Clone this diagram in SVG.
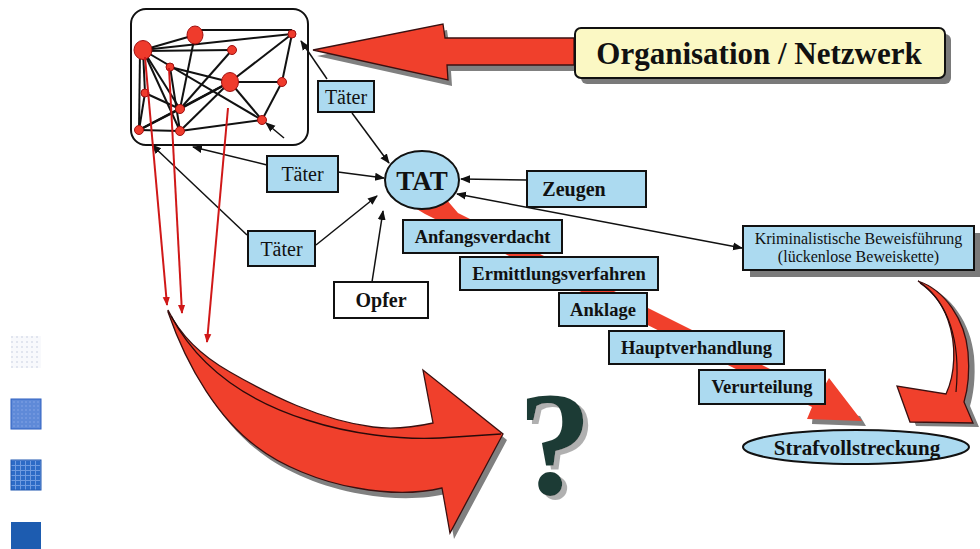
<svg xmlns="http://www.w3.org/2000/svg" width="980" height="549" viewBox="0 0 980 549">
<defs>
<style>
.bx{fill:#acdaf0;stroke:#111;stroke-width:2}
.wb{fill:#fff;stroke:#111;stroke-width:2}
.t{font-family:"Liberation Serif","Times New Roman",serif;fill:#111;text-anchor:middle}
.b{font-weight:bold}
.e{stroke:#111;stroke-width:2;fill:none}
.nd{fill:#ef3b2c;stroke:#a01010;stroke-width:1}
.c{stroke:#111;stroke-width:1.5;fill:none;marker-end:url(#ah)}
.r{stroke:#d01818;stroke-width:2;fill:none;marker-end:url(#ar)}
.red{fill:#f0402c;stroke:#3a1010;stroke-width:1.3}
.sh{fill:#808080}
</style>
<marker id="ah" viewBox="0 0 10 10" refX="9" refY="5" markerUnits="userSpaceOnUse" markerWidth="10" markerHeight="10" orient="auto-start-reverse"><path d="M0,1 L10,5 L0,9 z" fill="#111"/></marker>
<marker id="ar" viewBox="0 0 10 10" refX="9" refY="5" markerUnits="userSpaceOnUse" markerWidth="9" markerHeight="9" orient="auto"><path d="M0,1 L10,5 L0,9 z" fill="#d01818"/></marker>
<pattern id="p1" width="5" height="5" patternUnits="userSpaceOnUse"><rect width="5" height="5" fill="#f8f9fc"/><circle cx="2" cy="2" r="0.8" fill="#c4cde0"/></pattern>
<pattern id="p2" width="4" height="4" patternUnits="userSpaceOnUse"><rect width="4" height="4" fill="#5f8ad8"/><circle cx="2" cy="2" r="0.8" fill="#86a6e6"/></pattern>
<pattern id="p3" width="5" height="5" patternUnits="userSpaceOnUse"><rect width="5" height="5" fill="#2d6bc6"/><path d="M0,0.5 H5 M0.5,0 V5" stroke="#6f9be0" stroke-width="1"/></pattern>
<filter id="qs" x="-20%" y="-20%" width="150%" height="150%">
<feOffset in="SourceAlpha" dx="5" dy="4" result="o"/>
<feFlood flood-color="#b0b0b0"/>
<feComposite in2="o" operator="in" result="s"/>
<feMerge><feMergeNode in="s"/><feMergeNode in="SourceGraphic"/></feMerge>
</filter>
</defs>

<g id="legend-squares">
<rect x="11" y="336" width="30" height="32" fill="url(#p1)"/>
<rect x="11" y="399" width="30" height="30" fill="url(#p2)" stroke="#2c5fc0" stroke-width="1"/>
<rect x="11" y="460" width="30" height="30" fill="url(#p3)" stroke="#1f56b0" stroke-width="1"/>
<rect x="11" y="522" width="30" height="30" fill="#1d5cb0"/>
</g>

<g id="network">
<rect x="131" y="9" width="177" height="136" rx="15" fill="#fff" stroke="#111" stroke-width="2"/>
<g class="e">
<line x1="143" y1="50" x2="195" y2="35"/>
<line x1="195" y1="30" x2="292" y2="30"/>
<line x1="143" y1="50" x2="292" y2="34"/>
<line x1="143" y1="51" x2="232" y2="50"/>
<line x1="195" y1="35" x2="180" y2="109"/>
<line x1="232" y1="50" x2="180" y2="109"/>
<line x1="292" y1="34" x2="230" y2="82"/>
<line x1="292" y1="34" x2="282" y2="82"/>
<line x1="230" y1="82" x2="282" y2="82"/>
<line x1="230" y1="82" x2="262" y2="120"/>
<line x1="282" y1="82" x2="262" y2="120"/>
<line x1="180" y1="131" x2="262" y2="120"/>
<line x1="139" y1="130" x2="180" y2="131"/>
<line x1="139" y1="130" x2="180" y2="109"/>
<line x1="143" y1="50" x2="145" y2="93"/>
<line x1="145" y1="93" x2="139" y2="130"/>
<line x1="140" y1="52" x2="139" y2="130"/>
<line x1="143" y1="50" x2="180" y2="109"/>
<line x1="143" y1="50" x2="180" y2="131"/>
<line x1="143" y1="50" x2="262" y2="120"/>
<line x1="230" y1="82" x2="180" y2="109"/>
<line x1="230" y1="82" x2="139" y2="130"/>
<line x1="230" y1="82" x2="180" y2="131"/>
<line x1="170" y1="67" x2="180" y2="131"/>
<line x1="145" y1="93" x2="180" y2="109"/>
<line x1="170" y1="67" x2="230" y2="82"/>
</g>
<ellipse class="nd" cx="143" cy="50" rx="9" ry="9.5"/>
<ellipse class="nd" cx="195" cy="35" rx="8" ry="9"/>
<circle class="nd" cx="292" cy="34" r="4"/>
<circle class="nd" cx="232" cy="50" r="4.5"/>
<circle class="nd" cx="170" cy="67" r="4"/>
<ellipse class="nd" cx="230" cy="82" rx="8.5" ry="9.5"/>
<circle class="nd" cx="282" cy="82" r="4.5"/>
<circle class="nd" cx="145" cy="93" r="4"/>
<circle class="nd" cx="180" cy="109" r="4.5"/>
<circle class="nd" cx="262" cy="120" r="4.5"/>
<circle class="nd" cx="139" cy="130" r="4.5"/>
<circle class="nd" cx="180" cy="131" r="4.5"/>
</g>

<g id="big-arrows">
<polygon class="sh" points="317,56 447,30 449,44 578,44 578,71 451,71 452,86"/>
<polygon class="red" points="313,50 443,24 445,38 574,38 574,65 447,65 448,80"/>
<path class="sh" transform="translate(4,6)" d="M168,310 C180,335 200,355 230,372 C270,395 320,420 373,427 C395,430 415,427 433,423 L423,370 L503,434 L450,533 L442,488 C425,492 395,495 357,488 C320,482 280,465 257,447 C220,420 188,370 168,312 Z"/>
<path class="red" d="M168,310 C180,335 200,355 230,372 C270,395 320,420 373,427 C395,430 415,427 433,423 L423,370 L503,434 L450,533 L442,488 C425,492 395,495 357,488 C320,482 280,465 257,447 C220,420 188,370 168,312 Z"/>
<path d="M171,316 C200,370 250,402 307,420 C350,434 400,440 440,438 L501,434" fill="none" stroke="#2a0a0a" stroke-width="1.4"/>
<path class="sh" transform="translate(6,4)" d="M918,281 C945,290 965,320 968,352 C970,375 967,392 964,402 L973,423 L910,422 L897,386 L946,394 C955,375 957,345 948,320 C942,303 932,290 918,281 Z"/>
<path class="red" d="M918,281 C945,290 965,320 968,352 C970,375 967,392 964,402 L973,423 L910,422 L897,386 L946,394 C955,375 957,345 948,320 C942,303 932,290 918,281 Z"/>
<path d="M920,283 C948,302 961,340 956,392" fill="none" stroke="#2a0a0a" stroke-width="1.2"/>
<polygon class="sh" points="813,410 860,416 866,426 812,424"/>
<polygon fill="#f0402c" points="405,192 440,192 458,213 820,394 829,378 862,421 807,419 812,407 425,214 405,202"/>
</g>

<g id="connectors">
<line class="c" x1="327" y1="79" x2="301" y2="41"/>
<line class="c" x1="284" y1="138" x2="266" y2="123"/>
<line class="c" x1="352" y1="113" x2="389" y2="163"/>
<line class="c" x1="267" y1="165" x2="193" y2="147"/>
<line class="c" x1="338" y1="172" x2="384" y2="178"/>
<line class="c" x1="247" y1="235" x2="152" y2="145"/>
<line class="c" x1="316" y1="245" x2="377" y2="196"/>
<line class="c" x1="372" y1="282" x2="383" y2="211"/>
<line class="c" x1="527" y1="180" x2="461" y2="179"/>
<line x1="742" y1="248" x2="457" y2="194" stroke="#111" stroke-width="1.5" marker-start="url(#ah)" marker-end="url(#ah)"/>
<line class="r" x1="145" y1="57" x2="167" y2="305"/>
<line class="r" x1="169" y1="68" x2="182" y2="313"/>
<line class="r" x1="228" y1="108" x2="207" y2="342"/>
</g>

<g id="organisation">
<rect x="581" y="34" width="370" height="50" rx="6" fill="#7a7a7a"/>
<rect x="575" y="28" width="370" height="50" rx="6" fill="#fbf8c4" stroke="#111" stroke-width="2"/>
<text class="t b" x="759" y="64" font-size="31">Organisation / Netzwerk</text>
</g>

<g id="tat">
<ellipse cx="422" cy="180" rx="37" ry="29" fill="#acdaf0" stroke="#111" stroke-width="2"/>
<text class="t b" x="422" y="190" font-size="27">TAT</text>
</g>

<g id="taeter1"><rect class="bx" x="318" y="81" width="56" height="31"/><text class="t" x="346" y="103.5" font-size="20">Täter</text></g>
<g id="taeter2"><rect class="bx" x="267" y="156" width="71" height="36"/><text class="t" x="302.5" y="181" font-size="20">Täter</text></g>
<g id="taeter3"><rect class="bx" x="248" y="231" width="67" height="35"/><text class="t" x="281.5" y="255.5" font-size="20">Täter</text></g>
<g id="opfer"><rect class="wb" x="334" y="282" width="94" height="36"/><text class="t b" x="381" y="307" font-size="20">Opfer</text></g>
<g id="zeugen"><rect class="bx" x="527" y="171" width="119" height="36"/><text class="t b" x="574" y="196" font-size="20">Zeugen</text></g>

<g id="anfangsverdacht"><rect class="bx" x="403" y="220" width="159" height="33"/><text class="t b" x="482.5" y="243" font-size="18.5">Anfangsverdacht</text></g>
<g id="ermittlungsverfahren"><rect class="bx" x="460" y="257" width="198" height="33"/><text class="t b" x="559" y="280" font-size="18.5">Ermittlungsverfahren</text></g>
<g id="anklage"><rect class="bx" x="559" y="293" width="88" height="33"/><text class="t b" x="603" y="316" font-size="18.5">Anklage</text></g>
<g id="hauptverhandlung"><rect class="bx" x="609" y="331" width="175" height="33"/><text class="t b" x="696.5" y="354" font-size="18.5">Hauptverhandlung</text></g>
<g id="verurteilung"><rect class="bx" x="699" y="370" width="126" height="34"/><text class="t b" x="762" y="393" font-size="18.5">Verurteilung</text></g>

<g id="beweisfuehrung">
<rect x="750" y="233" width="231" height="44" fill="#7a7a7a"/>
<rect class="bx" x="743" y="226" width="231" height="44"/>
<text class="t" x="858.5" y="244" font-size="16">Kriminalistische Beweisführung</text>
<text class="t" x="858.5" y="262" font-size="16">(lückenlose Beweiskette)</text>
</g>

<g id="strafvollstreckung">
<ellipse cx="856" cy="447" rx="113" ry="17" fill="#acdaf0" stroke="#111" stroke-width="2"/>
<text class="t b" x="857" y="455" font-size="21">Strafvollstreckung</text>
</g>

<g id="question">
<text class="t b" x="555" y="494" font-size="148" filter="url(#qs)" style="fill:#1e3b35">?</text>
</g>
</svg>
